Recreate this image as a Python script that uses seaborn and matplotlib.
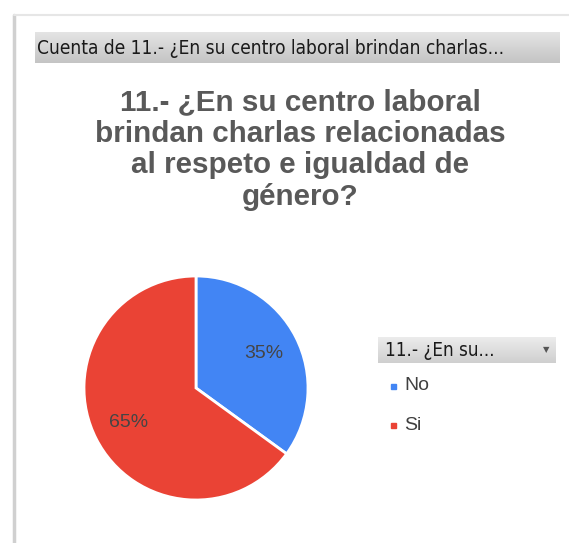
import numpy as np
import matplotlib
matplotlib.use("Agg")
import matplotlib.pyplot as plt
from matplotlib.patches import Rectangle
import seaborn as sns

categories = ["No", "Si"]
percentages = [35, 65]
slice_colors = ["#4285F4", "#EA4335"]
header_text = "Cuenta de 11.- ¿En su centro laboral brindan charlas..."
title_text = "11.- ¿En su centro laboral\nbrindan charlas relacionadas\nal respeto e igualdad de\ngénero?"
legend_title = "11.- ¿En su..."

sns.set_theme(style="white")
plt.rcParams["font.family"] = ["Liberation Sans", "DejaVu Sans"]
palette = sns.color_palette(slice_colors)

W, H = 569, 543
fig = plt.figure(figsize=(W / 100, H / 100), dpi=100)
fig.patch.set_facecolor("white")


def px_axes(x, y, w, h):
    """Axes placed in pixel coordinates measured from the top-left corner."""
    return fig.add_axes([x / W, 1 - (y + h) / H, w / W, h / H])


def gradient_bar(x, y, w, h, top="#e4e4e4", bottom="#c4c4c4"):
    ax = px_axes(x, y, w, h)
    grad = np.linspace(0, 1, 64).reshape(-1, 1)
    c0 = np.array(matplotlib.colors.to_rgb(top))
    c1 = np.array(matplotlib.colors.to_rgb(bottom))
    img = c0 + (c1 - c0) * grad[..., None]
    ax.imshow(img, aspect="auto", extent=[0, 1, 1, 0])
    ax.set_xlim(0, 1)
    ax.set_ylim(1, 0)
    ax.axis("off")
    return ax


# panel frame
fig.add_artist(plt.Line2D([14 / W, 14 / W], [0, 1 - 15 / H], color="#d0d0d0", lw=2.5))
fig.add_artist(plt.Line2D([14 / W, 1], [1 - 15 / H, 1 - 15 / H], color="#e6e6e6", lw=1.5))

# field header bar
hb = gradient_bar(35, 32, 525, 31)
hb.text(0.004, 0.52, header_text, va="center", ha="left", fontsize=13.7,
        family=["DejaVu Sans"], color="#1a1a1a", fontstretch="condensed")

# chart title
fig.text(300 / W, 1 - 88 / H, title_text, ha="center", va="top", fontsize=21.3,
         fontweight="bold", color="#595959", linespacing=1.16)

# pie
cx, cy, r = 196, 388, 112
ax = px_axes(cx - r, cy - r, 2 * r, 2 * r)
wedges, texts, autotexts = ax.pie(
    percentages, colors=palette, startangle=90, counterclock=False,
    autopct="%1.0f%%", pctdistance=0.68, radius=1.0,
    wedgeprops=dict(edgecolor="white", linewidth=2),
    textprops=dict(fontsize=14, color="#454545"))
ax.set_xlim(-1, 1)
ax.set_ylim(-1, 1)
ax.set_aspect("equal")
ax.axis("off")

# legend box
lb = gradient_bar(378, 337, 178, 26, top="#ececec", bottom="#cfcfcf")
lb.text(0.04, 0.5, legend_title, va="center", ha="left", fontsize=13.5,
        family=["DejaVu Sans"], color="#1a1a1a", fontstretch="condensed")
lb.text(0.945, 0.5, "▼", va="center", ha="center", fontsize=6, color="#555555",
        family=["DejaVu Sans"])

for i, (cat, col) in enumerate(zip(categories, palette)):
    ly = 386 + i * 39
    fig.patches.append(Rectangle((391 / W, 1 - (ly + 2.5) / H), 5 / W, 5 / H,
                                 transform=fig.transFigure, color=col, figure=fig))
    fig.text(404 / W, 1 - ly / H, cat, ha="left", va="center", fontsize=14,
             color="#404040")

fig.savefig("out.png", dpi=100, facecolor="white")
